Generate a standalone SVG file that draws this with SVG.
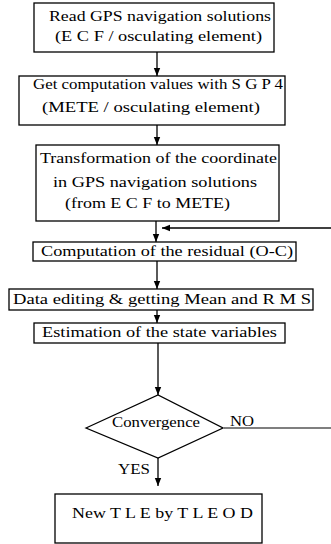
<svg xmlns="http://www.w3.org/2000/svg" width="331" height="544" viewBox="0 0 331 544">
<defs>
<style>
.box{fill:#fff;stroke:#000;stroke-width:1.3}
.t{font-family:"Liberation Serif","Times New Roman",serif;font-size:15px;fill:#000}
.c{stroke:#000;stroke-width:1.3;fill:none}
.g{stroke:#555;stroke-width:1.6;fill:none}
</style>
<marker id="ah" viewBox="0 0 10 10" refX="10" refY="5" markerWidth="8" markerHeight="8" markerUnits="userSpaceOnUse" orient="auto">
<path d="M0,1 L10,5 L0,9 z" fill="#000"/>
</marker>
</defs>
<rect width="331" height="544" fill="#fff"/>
<g id="connectors">
<line class="c" x1="157" y1="52" x2="157" y2="76" marker-end="url(#ah)"/>
<line class="c" x1="157" y1="125" x2="157" y2="145" marker-end="url(#ah)"/>
<line class="c" x1="156" y1="221" x2="156" y2="242" marker-end="url(#ah)"/>
<line class="c" x1="331" y1="228" x2="162" y2="228" marker-end="url(#ah)"/>
<line class="c" x1="157" y1="261" x2="157" y2="289" marker-end="url(#ah)"/>
<line class="c" x1="157" y1="310" x2="157" y2="323" marker-end="url(#ah)"/>
<line class="c" x1="158" y1="343" x2="158" y2="395" marker-end="url(#ah)"/>
<line class="g" x1="224" y1="428" x2="331" y2="428"/>
<line class="c" x1="158" y1="458" x2="158" y2="486" marker-end="url(#ah)"/>
<text class="t" x="230" y="426" textLength="24" lengthAdjust="spacingAndGlyphs">NO</text>
<text class="t" x="118" y="474" textLength="32" lengthAdjust="spacingAndGlyphs">YES</text>
</g>
<g id="n1">
<rect class="box" x="34" y="3" width="240" height="49"/>
<text class="t" x="49" y="21" textLength="222" lengthAdjust="spacingAndGlyphs">Read GPS navigation solutions</text>
<text class="t" x="55" y="41" textLength="207" lengthAdjust="spacingAndGlyphs">(E C F / osculating element)</text>
</g>
<g id="n2">
<rect class="box" x="19" y="76" width="266" height="49"/>
<text class="t" x="33" y="89" textLength="250" lengthAdjust="spacingAndGlyphs">Get computation values with S G P 4</text>
<text class="t" x="42" y="112" textLength="218" lengthAdjust="spacingAndGlyphs">(METE / osculating element)</text>
</g>
<g id="n3">
<rect class="box" x="36" y="145" width="243" height="76"/>
<text class="t" x="40" y="163" textLength="237" lengthAdjust="spacingAndGlyphs">Transformation of the coordinate</text>
<text class="t" x="53" y="187" textLength="204" lengthAdjust="spacingAndGlyphs">in GPS navigation solutions</text>
<text class="t" x="65" y="208" textLength="165" lengthAdjust="spacingAndGlyphs">(from E C F to METE)</text>
</g>
<g id="n4">
<rect class="box" x="33" y="242" width="263" height="19"/>
<text class="t" x="41" y="256" textLength="252" lengthAdjust="spacingAndGlyphs">Computation of the residual (O-C)</text>
</g>
<g id="n5">
<rect class="box" x="9" y="289" width="304" height="21"/>
<text class="t" x="13" y="304" textLength="298" lengthAdjust="spacingAndGlyphs">Data editing &amp; getting Mean and R M S</text>
</g>
<g id="n6">
<rect class="box" x="34" y="323" width="251" height="20"/>
<text class="t" x="42" y="337" textLength="235" lengthAdjust="spacingAndGlyphs">Estimation of the state variables</text>
</g>
<g id="n7">
<polygon class="box" points="86,428 158,395 223,428 158,458"/>
<text class="t" x="112" y="427" textLength="88" lengthAdjust="spacingAndGlyphs">Convergence</text>
</g>
<g id="n8">
<rect class="box" x="55" y="494" width="207" height="49"/>
<text class="t" x="72" y="518" textLength="181" lengthAdjust="spacingAndGlyphs">New T L E by T L E O D</text>
</g>
</svg>
